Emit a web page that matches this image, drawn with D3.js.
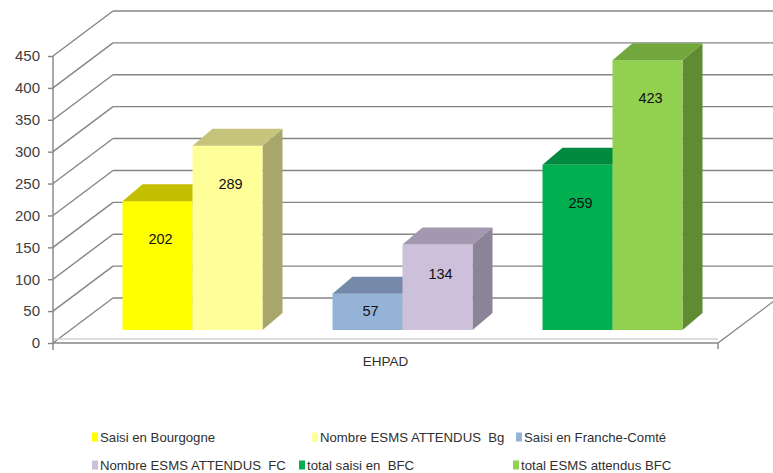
<!DOCTYPE html>
<html>
<head>
<meta charset="utf-8">
<script src="https://cdn.jsdelivr.net/npm/d3@7"></script>
<style>
  body { margin: 0; background: #fff; }
  svg { font-family: "Liberation Sans", Arial, sans-serif; }
  .legend text { white-space: pre; }
</style>
</head>
<body>
<div id="chart"></div>
<script>
// Data
const categories = ['EHPAD'];
const groups = ['Bourgogne', 'Franche-Comté', 'BFC'];
const seriesNames = [
    'Saisi en Bourgogne',
    'Nombre ESMS ATTENDUS  Bg',
    'Saisi en Franche-Comté',
    'Nombre ESMS ATTENDUS  FC',
    'total saisi en  BFC',
    'total ESMS attendus BFC'
];
const seriesGroup = ['Bourgogne', 'Bourgogne', 'Franche-Comté', 'Franche-Comté', 'BFC', 'BFC'];
const seriesValues = [202, 289, 57, 134, 259, 423];
const yTicks = [0, 50, 100, 150, 200, 250, 300, 350, 400, 450];

// Colours: front, top, side
const frontColors = ['#ffff00', '#ffff99', '#95b3d7', '#ccc0da', '#00b050', '#92d050'];
const topColors = ['#c4bf00', '#c6c37c', '#7489a9', '#a298b0', '#008a3f', '#72a83e'];
const sideColors = ['#a8a300', '#a9a66b', '#627594', '#8b8397', '#007534', '#5f8c31'];

// Dimensions
let width = 773, height = 473;
let x0 = 53, x1 = 718;          // front floor edge
let wall = {dx: 60, dy: -45};    // depth of the walls
let barOff = {dx: 17, dy: -13};  // front face of the bars
let barDepth = {dx: 20, dy: -17};

let y = d3.scaleLinear().domain([0, 450]).range([343, 56]);

let xGroup = d3.scaleBand()
    .domain(groups)
    .range([x0 + barOff.dx, x1 + barOff.dx])
    .paddingInner(1 / 3)
    .paddingOuter(0.25);

let xInner = d3.scaleBand()
    .domain([0, 1])
    .range([0, xGroup.bandwidth()]);

let xCat = d3.scaleBand().domain(categories).range([x0, x1]);

let svg = d3.select('#chart')
    .append('svg')
    .attr('width', width)
    .attr('height', height);

let grid = svg.append('g')
    .attr('fill', 'none')
    .attr('stroke', '#858585')
    .attr('stroke-width', 1.4);

// Back wall horizontal lines
grid.selectAll('.back')
    .data(yTicks)
    .enter().append('line')
    .attr('x1', x0 + wall.dx)
    .attr('x2', x1 + wall.dx)
    .attr('y1', d => y(d) + wall.dy)
    .attr('y2', d => y(d) + wall.dy);

// Side wall diagonals
grid.selectAll('.side')
    .data(yTicks)
    .enter().append('line')
    .attr('x1', x0)
    .attr('x2', x0 + wall.dx)
    .attr('y1', d => y(d))
    .attr('y2', d => y(d) + wall.dy);

// Floor edges
grid.append('line')
    .attr('stroke', '#d2d2d2')
    .attr('x1', x0).attr('x2', x1)
    .attr('y1', y(0) - 4).attr('y2', y(0) - 4);
grid.append('line')
    .attr('x1', x0).attr('x2', x1)
    .attr('y1', y(0)).attr('y2', y(0));
grid.append('line')
    .attr('x1', x1).attr('x2', x1 + wall.dx)
    .attr('y1', y(0)).attr('y2', y(0) + wall.dy);
grid.append('line')
    .attr('x1', x1).attr('x2', x1)
    .attr('y1', y(0)).attr('y2', y(0) + 6);

// Y axis
let yAxis = svg.append('g')
    .attr('transform', 'translate(' + x0 + ',0)')
    .call(d3.axisLeft(y).tickValues(yTicks).tickSize(5).tickSizeOuter(0).tickPadding(8));
yAxis.select('.domain').attr('stroke', '#858585').attr('stroke-width', 1.4)
    .attr('d', 'M0,' + y(450) + 'V' + (y(0) + 7));
yAxis.selectAll('.tick line').attr('stroke', '#858585').attr('stroke-width', 1.4);
yAxis.selectAll('.tick text')
    .attr('fill', '#404040')
    .style('font-size', '15px');

// Category axis
let xAxis = svg.append('g')
    .attr('transform', 'translate(0,' + y(0) + ')')
    .call(d3.axisBottom(xCat).tickSize(0).tickPadding(13));
xAxis.select('.domain').remove();
xAxis.selectAll('.tick text')
    .attr('fill', '#303030')
    .style('font-size', '13.5px');

// Bars
let bars = seriesValues.map(function (v, i) {
    let left = xGroup(seriesGroup[i]) + xInner(i % 2);
    return {
        i: i,
        value: v,
        x: left,
        w: xInner.bandwidth(),
        top: y(v) + barOff.dy,
        bottom: y(0) + barOff.dy
    };
});

let barG = svg.append('g');
let bar = barG.selectAll('.bar')
    .data(bars)
    .enter().append('g')
    .attr('class', 'bar');

// right side face
bar.append('path')
    .attr('fill', d => sideColors[d.i])
    .attr('d', function (d) {
        let xr = d.x + d.w;
        return 'M' + xr + ',' + d.top +
            'L' + (xr + barDepth.dx) + ',' + (d.top + barDepth.dy) +
            'L' + (xr + barDepth.dx) + ',' + (d.bottom + barDepth.dy) +
            'L' + xr + ',' + d.bottom + 'Z';
    });

// front face
bar.append('rect')
    .attr('fill', d => frontColors[d.i])
    .attr('x', d => d.x)
    .attr('y', d => d.top)
    .attr('width', d => d.w)
    .attr('height', d => d.bottom - d.top);

// top face
bar.append('path')
    .attr('fill', d => topColors[d.i])
    .attr('d', function (d) {
        return 'M' + d.x + ',' + d.top +
            'L' + (d.x + barDepth.dx) + ',' + (d.top + barDepth.dy) +
            'L' + (d.x + d.w + barDepth.dx) + ',' + (d.top + barDepth.dy) +
            'L' + (d.x + d.w) + ',' + d.top + 'Z';
    });

// Data labels
bar.append('text')
    .attr('x', d => d.x + d.w / 2 + 3)
    .attr('y', function (d) {
        let h = d.bottom - d.top;
        return d.top + Math.min(0.24 * h + 9, 38);
    })
    .attr('dy', '0.35em')
    .attr('text-anchor', 'middle')
    .attr('fill', '#111')
    .style('font-size', '14.5px')
    .text(d => d.value);

// Legend
let legendPos = [
    [92, 437], [312, 437], [516, 437],
    [92, 465], [299, 465], [513, 465]
];
let legend = svg.append('g')
    .attr('class', 'legend')
    .selectAll('g')
    .data(seriesNames)
    .enter().append('g')
    .attr('transform', (d, i) => 'translate(' + legendPos[i][0] + ',' + legendPos[i][1] + ')');

legend.append('rect')
    .attr('x', 0)
    .attr('y', -4.5)
    .attr('width', 6)
    .attr('height', 9)
    .attr('fill', (d, i) => frontColors[i]);

legend.append('text')
    .attr('x', 8)
    .attr('dy', '0.35em')
    .attr('fill', '#303030')
    .style('font-size', '13.2px')
    .text(d => d);
</script>
</body>
</html>
